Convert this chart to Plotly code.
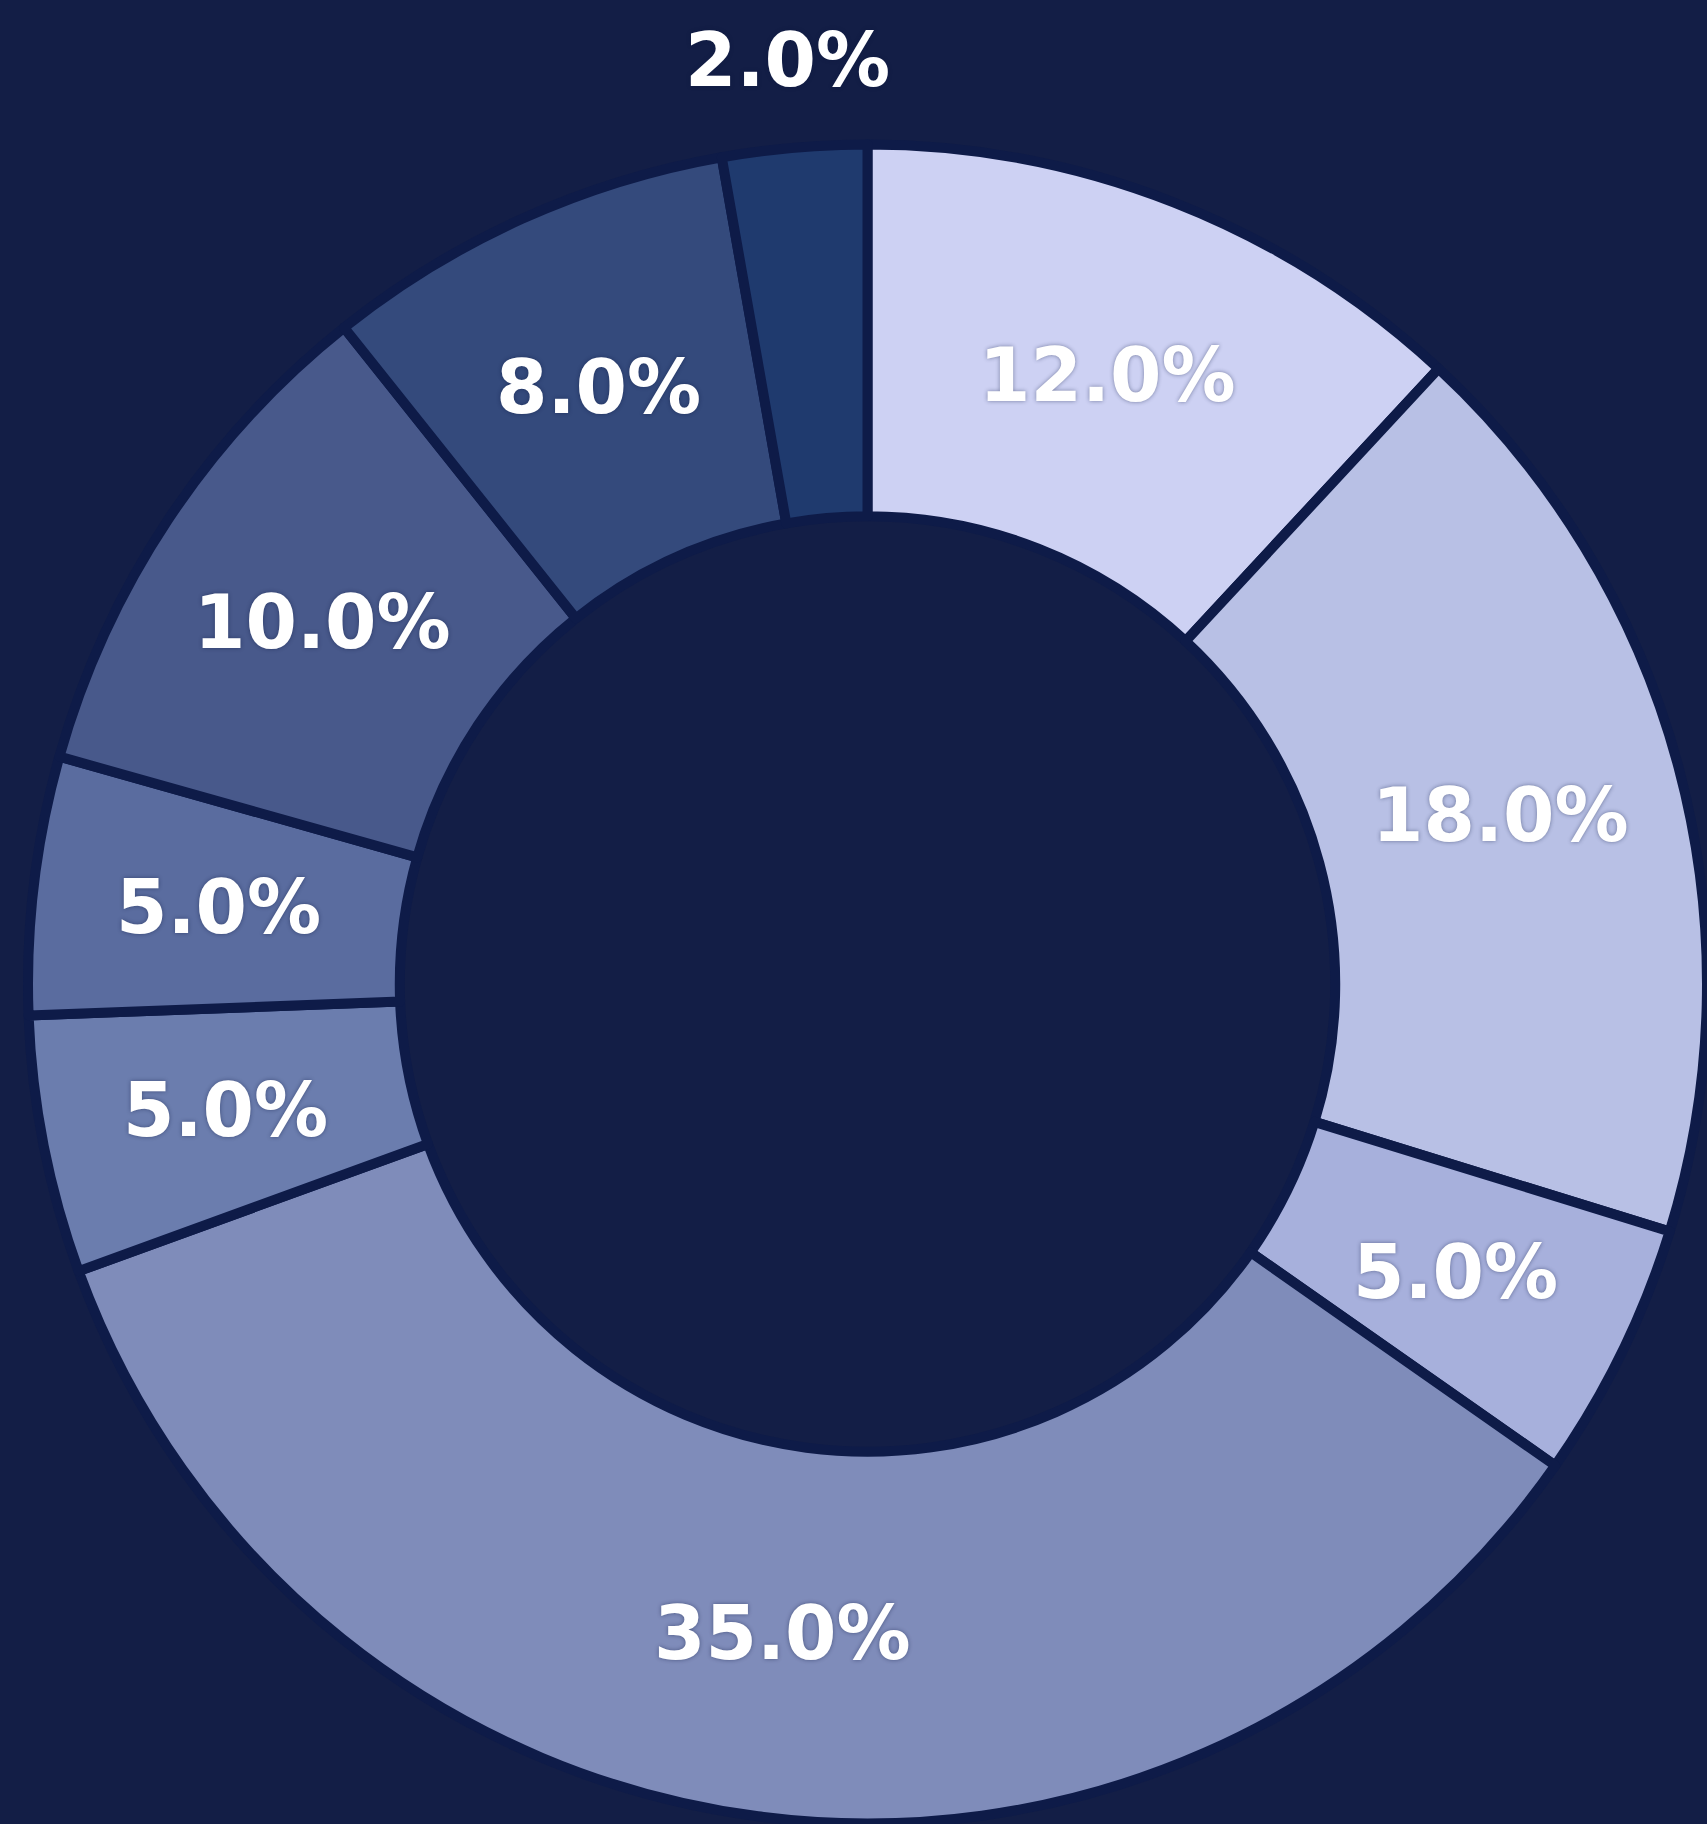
import math

import plotly.graph_objects as go

labels = ["A", "B", "C", "D", "E", "F", "G", "H", "I"]
values = [12, 18, 5, 35, 5, 5, 10, 8, 2]
colors = ["#CDD1F3", "#B8C0E5", "#A7B0DC", "#7F8CBA", "#6B7DAE",
          "#5A6C9F", "#48598B", "#344A7C", "#1F3A6E"]
outside = [False] * 8 + [True]

W, H = 1707, 1824
cx, cy, r_out, r_in = 868, 984, 840, 473
line_w = 10
min_angle = 10  # small slices are widened to a minimum sweep, as in the original

# slice sweeps (degrees), keeping tiny slices visible
total = sum(values)
small = [v / total * 360 < min_angle for v in values]
rest = 360 - min_angle * sum(small)
big_total = sum(v for v, s in zip(values, small) if not s)
sweeps = [min_angle if s else v / big_total * rest for v, s in zip(values, small)]
pct_text = [f"{v / total * 100:.1f}%" for v in values]

fig = go.Figure(
    go.Pie(
        labels=labels,
        values=sweeps,
        sort=False,
        direction="clockwise",
        rotation=0,
        hole=(r_in - line_w / 2) / r_out,
        marker={"colors": colors, "line": {"color": "#0E1B48", "width": line_w}},
        textinfo="none",
        showlegend=False,
        hoverinfo="skip",
        domain={"x": [max(0, (cx - r_out) / W), min(1, (cx + r_out) / W)],
                "y": [max(0, (H - cy - r_out) / H), min(1, (H - cy + r_out) / H)]},
    )
)

# percentage labels at the middle of each slice (outside for the tiny one)
start = 0
for sweep, txt, out in zip(sweeps, pct_text, outside):
    mid = math.radians(start + sweep / 2)
    start += sweep
    rad = r_out + 88 if out else (r_in + r_out) / 2 - 2
    px = cx + rad * math.sin(mid)
    py = cy - rad * math.cos(mid)
    fig.add_annotation(
        x=px / W,
        y=1 - py / H,
        xref="paper",
        yref="paper",
        text=txt,
        showarrow=False,
        xanchor="center",
        yanchor="middle",
        font={"family": "DejaVu Sans", "size": 74, "color": "#FFFFFF", "weight": "bold",
              "shadow": "0px 0px 4px rgba(12, 22, 60, 0.45)"},
    )

fig.update_layout(
    width=W,
    height=H,
    margin={"l": 0, "r": 0, "t": 0, "b": 0},
    paper_bgcolor="#131E46",
    plot_bgcolor="#131E46",
)
fig.write_html(
    "out.html",
    config={"displayModeBar": False},
    post_script="document.body.style.margin='0';document.body.style.overflow='hidden';",
)
